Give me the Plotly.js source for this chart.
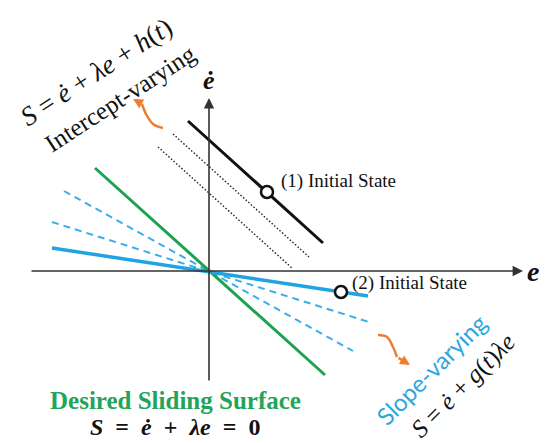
<!DOCTYPE html>
<html>
<head>
<meta charset="utf-8">
<script src="https://cdn.plot.ly/plotly-3.0.1.min.js"></script>
<style>
  html, body { margin: 0; padding: 0; background: #ffffff; }
  #plot { width: 545px; height: 443px; }
</style>
</head>
<body>
<div id="plot"></div>
<script>
// Phase plane (e, ė): origin at (0, 0), one unit per screen pixel.

// axis extents
const eAxisFrom = [-179, 0];
const eAxisTo = [314, 0];
const deAxisFrom = [0, -111];
const deAxisTo = [0, 173];

// desired sliding surface  ė + λe = 0
const desiredE = [-114, 116];
const desiredDe = [103, -104];

// intercept-varying surface and its intermediate positions
const shiftedE = [-21, 114];
const shiftedDe = [150, 28];
const dotted1E = [-36, 100];
const dotted1De = [137, 14];
const dotted2E = [-51, 84];
const dotted2De = [124, 2];

// slope-varying surface and its intermediate positions
const slopeE = [-157, 159];
const slopeDe = [23, -25];
const dashed1E = [-145, 144];
const dashed1De = [80, -80];
const dashed2E = [-157, 163];
const dashed2De = [49, -52];

// initial states
const initialE = [58, 132];
const initialDe = [79, -21];

// curved arrows
const waveTopE = [-46, -56, -63, -67];
const waveTopDe = [143, 147, 157, 167];
const waveTopTip = [-76, 172];
const waveBotE = [169, 178, 184, 188];
const waveBotDe = [-64, -66, -76, -86];
const waveBotTip = [201, -94];

const BLUE = '#1fa3e3';
const GREEN = '#1ba34e';
const ORANGE = '#ed7d31';
const SERIF = '"Times New Roman", "Liberation Serif", serif';
const SP = '\u2002';

function seg(x, y, color, width, dash, shape) {
  return {
    type: 'scatter', mode: 'lines', x: x, y: y, hoverinfo: 'skip',
    line: { color: color, width: width, dash: dash || 'solid', shape: shape || 'linear' }
  };
}

const traces = [
  seg(dotted1E, dotted1De, '#222222', 1.4, '1.5px,2px'),
  seg(dotted2E, dotted2De, '#222222', 1.4, '1.5px,2px'),
  seg(dashed1E, dashed1De, '#3aaee6', 2, '7px,5px'),
  seg(dashed2E, dashed2De, '#3aaee6', 2, '7px,5px'),
  seg(desiredE, desiredDe, GREEN, 3),
  seg(slopeE, slopeDe, BLUE, 3.5),
  seg(shiftedE, shiftedDe, '#111111', 3),
  seg(waveTopE, waveTopDe, ORANGE, 2.5, 'solid', 'spline'),
  seg(waveBotE, waveBotDe, ORANGE, 2.5, 'solid', 'spline'),
  {
    type: 'scatter', mode: 'markers', x: initialE, y: initialDe, hoverinfo: 'skip',
    marker: { symbol: 'circle', size: 12, color: '#ffffff', line: { color: '#111111', width: 2.5 } }
  }
];

function arrow(from, to, color, width, size) {
  return {
    x: to[0], y: to[1], ax: from[0], ay: from[1],
    xref: 'x', yref: 'y', axref: 'x', ayref: 'y',
    text: '', showarrow: true, arrowhead: 2, arrowsize: size,
    arrowwidth: width, arrowcolor: color, standoff: 0, startstandoff: 0
  };
}

function label(x, y, text, opts) {
  return Object.assign({
    x: x, y: y, xref: 'x', yref: 'y', text: text, showarrow: false,
    font: { family: SERIF, size: 19, color: '#111111' }
  }, opts || {});
}

const annotations = [
  arrow(eAxisFrom, eAxisTo, '#333333', 1.6, 1.3),
  arrow(deAxisFrom, deAxisTo, '#333333', 1.6, 1.3),
  arrow([waveTopE[3], waveTopDe[3]], waveTopTip, ORANGE, 2.5, 0.8),
  arrow([waveBotE[3], waveBotDe[3]], waveBotTip, ORANGE, 2.5, 0.8),

  label(0, 191, '<b><i>ė</i></b>', { font: { family: SERIF, size: 26, color: '#111111' } }),
  label(324, 0, '<b><i>e</i></b>', { font: { family: SERIF, size: 28, color: '#111111' } }),

  label(70, 90, '(1) Initial State', { xanchor: 'left' }),
  label(141, -12, '(2) Initial State', { xanchor: 'left' }),

  label(-113, 199, '<i>S</i> = <i>ė</i> + <i>λe</i> + <i>h</i>(<i>t</i>)',
        { textangle: -33, font: { family: SERIF, size: 27, color: '#111111' } }),
  label(-89, 173, 'Intercept-varying',
        { textangle: -33, font: { family: SERIF, size: 25, color: '#111111' } }),

  label(222, -98, 'Slope-varying',
        { textangle: -45, font: { family: 'Lato, "Noto Sans", sans-serif', size: 24, color: '#29a8e0' } }),
  label(254, -115, '<i>S</i> = <i>ė</i> + <i>g</i>(<i>t</i>)<i>λe</i>',
        { textangle: -45, font: { family: SERIF, size: 25, color: '#111111' } }),

  label(-34, -129, '<b>Desired Sliding Surface</b>',
        { font: { family: SERIF, size: 25, color: '#22a45a' } }),
  label(-34, -156, '<b><i>S</i>' + SP + '=' + SP + '<i>ė</i>' + SP + '+' + SP + '<i>λe</i>' + SP + '=' + SP + '0</b>',
        { font: { family: SERIF, size: 24, color: '#111111' } })
];

const layout = {
  width: 545, height: 443, autosize: false,
  margin: { l: 0, r: 0, t: 0, b: 0, pad: 0 },
  paper_bgcolor: '#ffffff', plot_bgcolor: '#ffffff',
  showlegend: false,
  xaxis: { range: [-209, 336], visible: false, fixedrange: true },
  yaxis: { range: [-172, 271], visible: false, fixedrange: true },
  annotations: annotations
};

Plotly.newPlot('plot', traces, layout, { staticPlot: true, displayModeBar: false });
</script>
</body>
</html>
